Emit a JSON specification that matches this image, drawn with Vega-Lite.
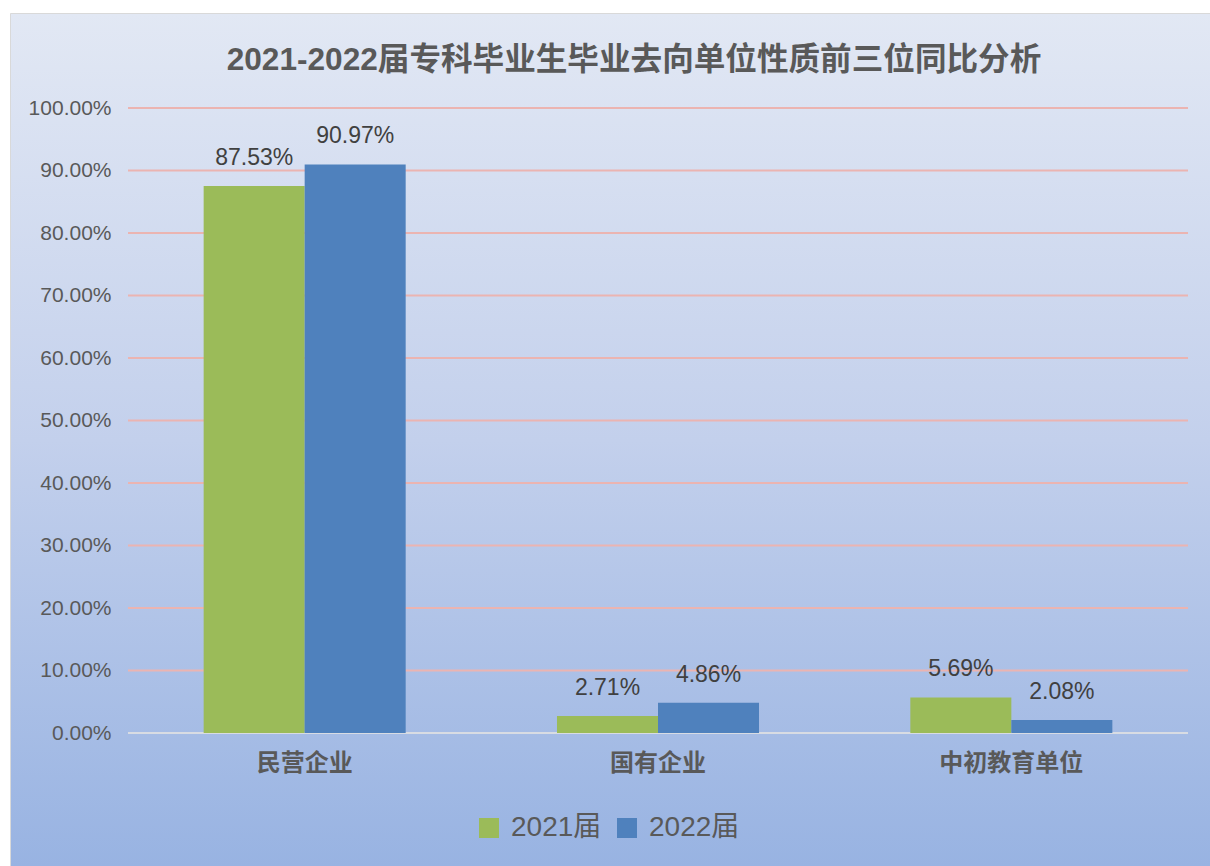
{
  "$schema": "https://vega.github.io/schema/vega-lite/v6.json",
  "width": 1200,
  "height": 853,
  "padding": {"left": 10, "top": 13, "right": 0, "bottom": 0},
  "autosize": {"type": "none"},
  "background": "#ffffff",
  "config": {
    "view": {
      "fill": {"gradient": "linear", "x1": 0, "y1": 0, "x2": 0, "y2": 1,
        "stops": [{"offset": 0, "color": "#e2e8f4"}, {"offset": 0.5, "color": "#c3d0ec"}, {"offset": 1, "color": "#98b3e2"}]},
      "stroke": "#d9d9d9",
      "strokeWidth": 1
    },
    "font": "Liberation Sans, Noto Sans CJK SC"
  },
  "title": {
    "text": "2021-2022届专科毕业生毕业去向单位性质前三位同比分析",
    "anchor": "middle",
    "frame": "group",
    "offset": -80,
    "baseline": "middle",
    "dx": 24,
    "fontSize": 31.6,
    "fontWeight": "bold",
    "color": "#595959",
    "font": "Liberation Sans, Noto Sans CJK SC"
  },
  "datasets": {
    "bars": [
      {"category": "民营企业", "year": "2021届", "value": 0.8753},
      {"category": "民营企业", "year": "2022届", "value": 0.9097},
      {"category": "国有企业", "year": "2021届", "value": 0.0271},
      {"category": "国有企业", "year": "2022届", "value": 0.0486},
      {"category": "中初教育单位", "year": "2021届", "value": 0.0569},
      {"category": "中初教育单位", "year": "2022届", "value": 0.0208}
    ],
    "grid": [
      {"v": 0}, {"v": 0.1}, {"v": 0.2}, {"v": 0.3}, {"v": 0.4}, {"v": 0.5},
      {"v": 0.6}, {"v": 0.7}, {"v": 0.8}, {"v": 0.9}, {"v": 1}
    ]
  },
  "layer": [
    {
      "data": {"name": "grid"},
      "mark": {"type": "rule", "strokeWidth": 2},
      "encoding": {
        "y": {"field": "v", "type": "quantitative",
          "scale": {"domain": [-0.21278, 1.15202], "nice": false, "zero": false}},
        "x": {"datum": "民营企业", "type": "nominal", "bandPosition": 0,
          "scale": {"domain": ["民营企业", "国有企业", "中初教育单位"], "paddingInner": 0, "paddingOuter": 0.1981, "align": 0.8429}},
        "x2": {"datum": "中初教育单位", "bandPosition": 1},
        "color": {"condition": {"test": "datum.v === 0", "value": "#d8dce3"}, "value": "#ebb4b1"}
      }
    },
    {
      "data": {"name": "bars"},
      "mark": {"type": "bar"},
      "encoding": {
        "x": {"field": "category", "type": "nominal",
          "scale": {"domain": ["民营企业", "国有企业", "中初教育单位"], "paddingInner": 0, "paddingOuter": 0.1981, "align": 0.8429},
          "axis": {"orient": "bottom", "offset": -103, "ticks": false, "domain": false, "labelPadding": 0,
            "labelBaseline": "middle", "labelAlign": "center", "labelAngle": 0, "labelFontSize": 24, "labelFontWeight": "bold",
            "labelColor": "#595959", "labelFont": "Liberation Sans, Noto Sans CJK SC", "title": null}},
        "xOffset": {"field": "year", "type": "nominal", "scale": {"paddingInner": 0, "paddingOuter": 0.749}},
        "y": {"field": "value", "type": "quantitative",
          "scale": {"domain": [-0.21278, 1.15202], "nice": false, "zero": false},
          "axis": {"values": [0, 0.1, 0.2, 0.3, 0.4, 0.5, 0.6, 0.7, 0.8, 0.9, 1], "format": ".2%",
            "grid": false, "ticks": false, "domain": false, "labelPadding": 0, "offset": -101,
            "labelFontSize": 21, "labelColor": "#595959", "labelFont": "Liberation Sans", "title": null}},
        "color": {"field": "year", "type": "nominal",
          "scale": {"domain": ["2021届", "2022届"], "range": ["#9bbb59", "#4f81bd"]},
          "legend": {"orient": "none", "legendX": 465, "legendY": 801, "direction": "horizontal", "title": null,
            "symbolType": "square", "symbolSize": 400, "symbolStrokeWidth": 0, "symbolOpacity": 1,
            "labelFontSize": 28, "labelColor": "#595959", "labelOffset": 8, "columnPadding": 11,
            "padding": 0, "labelFont": "Liberation Sans, Noto Sans CJK SC"}}
      }
    },
    {
      "data": {"name": "bars"},
      "mark": {"type": "text", "baseline": "alphabetic", "dy": -21, "fontSize": 23, "color": "#404040", "font": "Liberation Sans"},
      "encoding": {
        "x": {"field": "category", "type": "nominal"},
        "xOffset": {"field": "year", "type": "nominal"},
        "y": {"field": "value", "type": "quantitative"},
        "text": {"field": "value", "type": "quantitative", "format": ".2%"}
      }
    }
  ]
}
